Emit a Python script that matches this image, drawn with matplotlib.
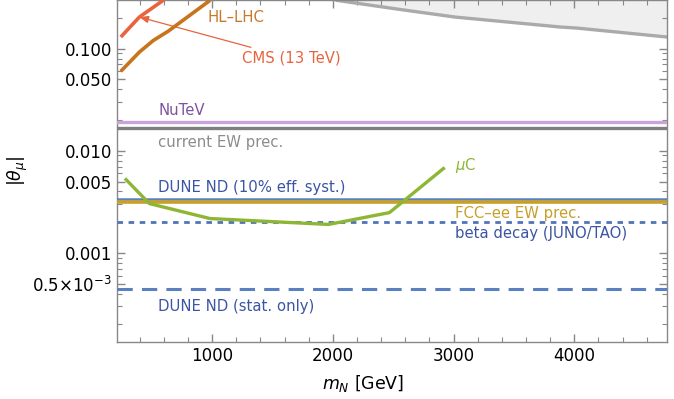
import matplotlib
matplotlib.use("Agg")
import matplotlib.pyplot as plt
from matplotlib.ticker import LogLocator, NullFormatter, FixedLocator, MultipleLocator

# --- data ---
cms_m = [244, 398, 600]
cms_theta = [0.130, 0.204, 0.30]

hllhc_m = [244, 398, 514, 638, 983]
hllhc_theta = [0.060, 0.0926, 0.1205, 0.1486, 0.297]

excl_m = [2036, 2558, 3013, 3883, 4024, 4770]
excl_theta = [0.297, 0.242, 0.204, 0.163, 0.159, 0.130]

muc_m = [288, 481, 983, 1964, 2469, 2916]
muc_theta = [0.00522, 0.00304, 0.00217, 0.00190, 0.00248, 0.00670]

nutev = 0.0191
current_ew = 0.01686
dune_syst = 0.0034
fcc_ee = 0.00313
beta_decay = 0.00201
dune_stat = 0.000442

xlim = (210, 4770)
ylim = (1.35e-4, 0.297)
ytick_vals = [0.0005, 0.001, 0.005, 0.01, 0.05, 0.1]
ytick_labels = [r"$0.5{\times}10^{-3}$", "0.001", "0.005", "0.010", "0.050", "0.100"]

fig = plt.figure(figsize=(6.74, 3.99), dpi=100)
ax = fig.add_axes([0.1731, 0.1436, 0.8169, 0.8554])

# excluded region (light grey) above the grey curve
ax.fill_between(excl_m, excl_theta, 1.0, color="#efefef", lw=0, zorder=1)
ax.plot(excl_m, excl_theta, color="#aaaaaa", lw=2.4, zorder=2)

# horizontal bounds
ax.axhline(nutev, color="#c9a3d9", lw=2.4, zorder=3)
ax.axhline(current_ew, color="#7f7f7f", lw=2.4, zorder=3)
ax.axhline(dune_syst, color="#5b80c0", lw=1.8, zorder=3)
ax.axhline(fcc_ee, color="#c6a02a", lw=2.6, zorder=3)
ax.axhline(beta_decay, color="#4f74b8", lw=2.0, ls=(0, (2, 2)), zorder=3)
ax.axhline(dune_stat, color="#5b80c0", lw=2.2, ls=(0, (5, 3)), zorder=3)

# collider curves
ax.plot(cms_m, cms_theta, color="#e8643c", lw=2.6, zorder=4, solid_capstyle="butt")
ax.plot(hllhc_m, hllhc_theta, color="#c8741c", lw=2.6, zorder=4, solid_capstyle="butt")
ax.plot(muc_m, muc_theta, color="#8db634", lw=2.4, zorder=4)

# labels
fs = 10.7
kw = dict(fontsize=fs, va="center", ha="left", zorder=5)
ax.text(959, 0.202, "HL–LHC", color="#c8782a", **kw)
ax.annotate("CMS (13 TeV)", xy=(398, 0.204), xytext=(1249, 0.0804),
            color="#e8643c", fontsize=fs, va="center", ha="left",
            arrowprops=dict(arrowstyle="-|>,head_length=0.5,head_width=0.2",
                            color="#e8643c", lw=0.9, shrinkA=2, shrinkB=0))
ax.text(553, 0.0249, "NuTeV", color="#7d529e", **kw)
ax.text(553, 0.0121, "current EW prec.", color="#8c8c8c", **kw)
ax.text(553, 0.0044, "DUNE ND (10% eff. syst.)", color="#3b55a3", **kw)
ax.text(3013, 0.00721, r"$\mu$C", color="#8db634", **kw)
ax.text(3013, 0.00244, "FCC–ee EW prec.", color="#c6a02a", **kw)
ax.text(3013, 0.00156, "beta decay (JUNO/TAO)", color="#3b55a3", **kw)
ax.text(553, 0.000301, "DUNE ND (stat. only)", color="#3b55a3", **kw)

# axes
ax.set_yscale("log")
ax.set_xlim(*xlim)
ax.set_ylim(*ylim)
ax.yaxis.set_major_locator(FixedLocator(ytick_vals))
ax.set_yticklabels(ytick_labels)
ax.yaxis.set_minor_locator(LogLocator(base=10, subs=range(1, 10), numticks=20))
ax.yaxis.set_minor_formatter(NullFormatter())
ax.xaxis.set_major_locator(MultipleLocator(1000))
ax.xaxis.set_minor_locator(MultipleLocator(200))

for s in ax.spines.values():
    s.set_color("#888888")
    s.set_linewidth(1.0)
ax.tick_params(which="both", direction="in", top=True, right=True,
               color="#888888", labelsize=12)
ax.tick_params(which="major", length=6, width=1.0)
ax.tick_params(which="minor", length=3.5, width=0.8)

ax.set_xlabel(r"$m_N$ [GeV]", fontsize=12.5)
ax.xaxis.set_label_coords(0.447, -0.093)
ax.set_ylabel(r"$|\theta_\mu|$", fontsize=12.5)
ax.yaxis.set_label_coords(-0.157, 0.5)

fig.savefig("out.png", dpi=100)
